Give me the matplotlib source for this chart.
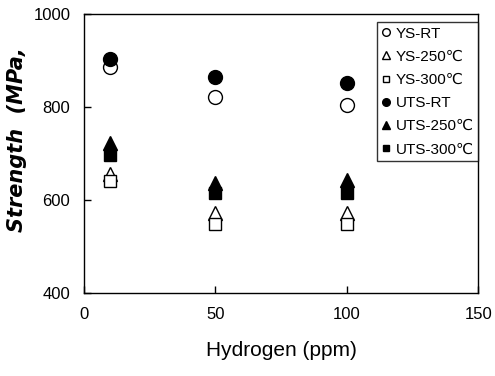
import matplotlib.pyplot as plt

plt.rcParams['font.family'] = ['Liberation Sans', 'DejaVu Sans']

hydrogen = [10, 50, 100]
ys_rt = [886, 822, 804]
ys_250 = [655, 572, 572]
ys_300 = [640, 548, 548]
uts_rt = [903, 864, 852]
uts_250 = [722, 636, 643]
uts_300 = [697, 614, 614]

fig = plt.figure(figsize=(4.95, 3.76), dpi=100)
ax = fig.add_axes([0.170, 0.221, 0.796, 0.742])

ms = 10
ax.plot(hydrogen, ys_rt, 'o', mfc='white', mec='black', ms=ms, mew=1, label='YS-RT')
ax.plot(hydrogen, ys_250, '^', mfc='white', mec='black', ms=ms, mew=1, label='YS-250\u2103')
ax.plot(hydrogen, ys_300, 's', mfc='white', mec='black', ms=ms - 1, mew=1, label='YS-300\u2103')
ax.plot(hydrogen, uts_rt, 'o', color='black', ms=ms, label='UTS-RT')
ax.plot(hydrogen, uts_250, '^', color='black', ms=ms, label='UTS-250\u2103')
ax.plot(hydrogen, uts_300, 's', color='black', ms=ms - 1, label='UTS-300\u2103')

ax.set_xlim(0, 150)
ax.set_ylim(400, 1000)
ax.set_xticks([0, 50, 100, 150])
ax.set_yticks([400, 600, 800, 1000])
ax.tick_params(direction='in', length=5, width=1, labelsize=12, pad=10)
for s in ax.spines.values():
    s.set_linewidth(1)

ax.set_xlabel('Hydrogen (ppm)', fontsize=15, labelpad=14)
ax.set_ylabel('Strength  (MPa,', fontsize=15, fontweight='bold', style='italic',
              family='DejaVu Sans')
ax.yaxis.set_label_coords(-0.145, 0.55)

leg = ax.legend(loc='upper right', bbox_to_anchor=(1.0, 0.971), markerscale=0.55,
                fontsize=11, frameon=True, fancybox=False, edgecolor='black',
                handlelength=0.6, handletextpad=0.3, labelspacing=0.6,
                borderpad=0.3, borderaxespad=0)
leg.get_frame().set_linewidth(1)

fig.savefig('out.png', dpi=100)
